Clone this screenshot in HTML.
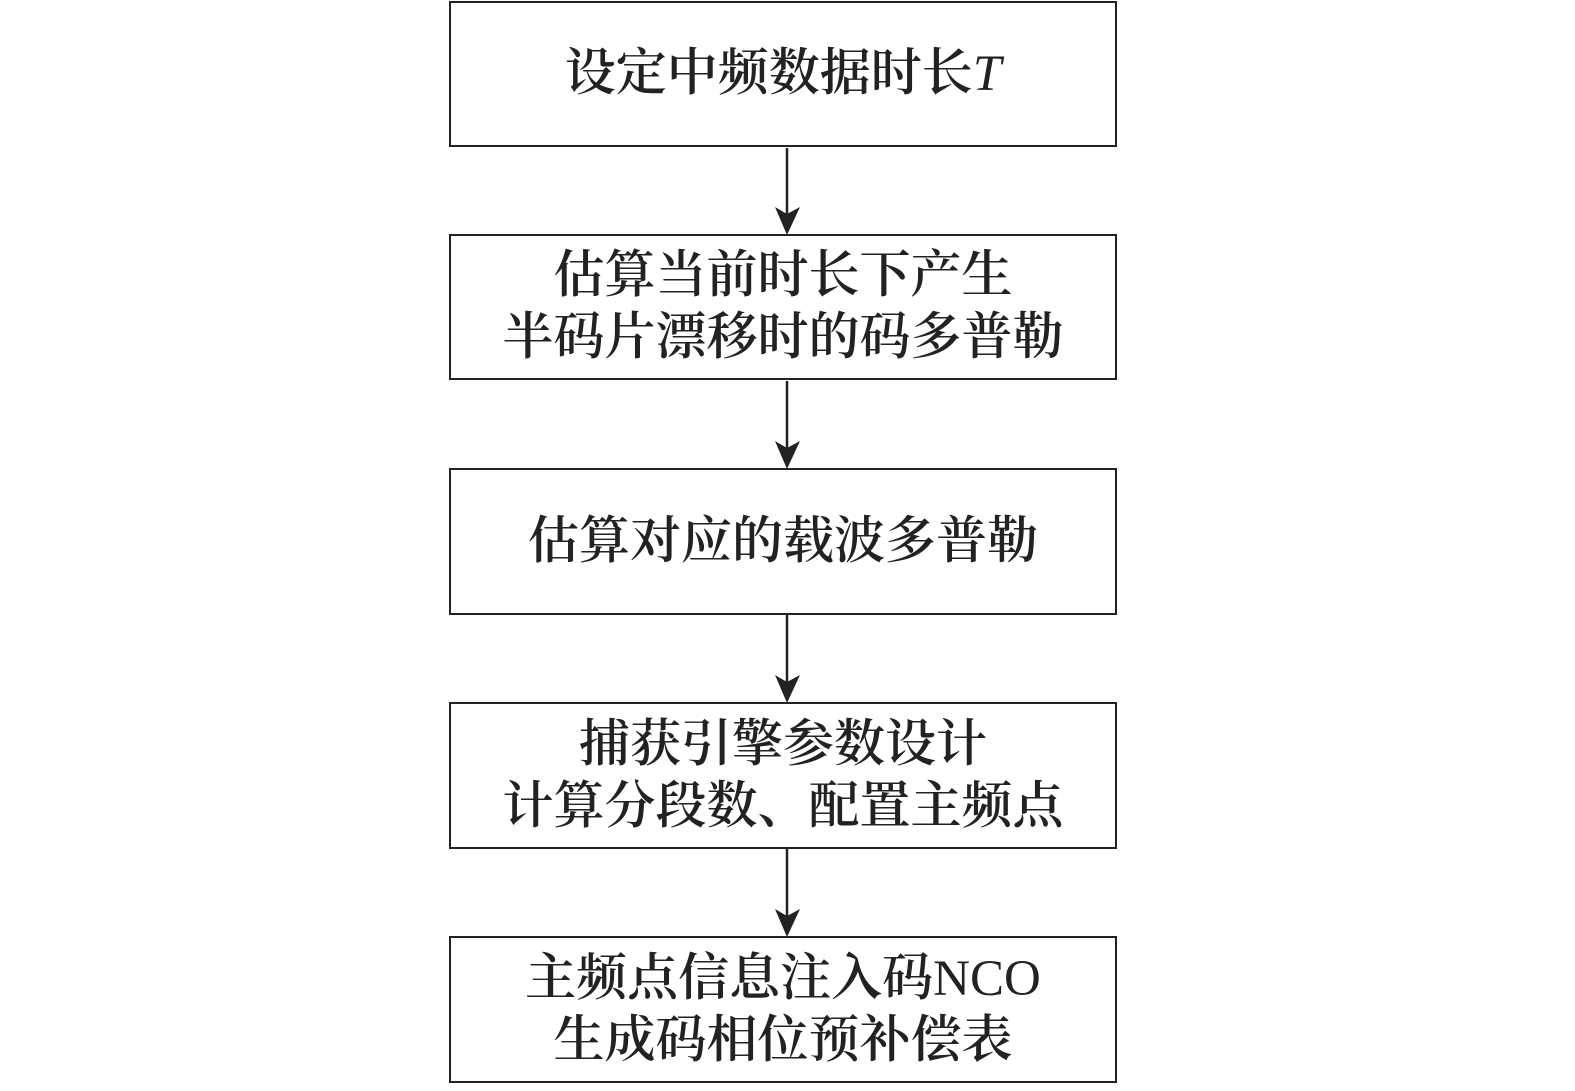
<!DOCTYPE html>
<html><head><meta charset="utf-8"><style>
html,body{margin:0;background:#fff;width:1575px;height:1091px;overflow:hidden;}
.b{position:absolute;left:449px;width:664px;border:2.5px solid #222;display:flex;flex-direction:column;align-items:center;justify-content:center;font-family:"Liberation Serif","Noto Serif CJK SC",serif;font-size:51px;font-weight:600;color:#222;line-height:62px;box-sizing:content-box;white-space:nowrap;}
.l{font-weight:normal;}
</style></head><body>
<div class="b" style="top:1px;height:142px;"><div>设定中频数据时长<i class="l">T</i></div></div>
<div class="b" style="top:234px;height:142px;"><div>估算当前时长下产生</div><div>半码片漂移时的码多普勒</div></div>
<div class="b" style="top:468px;height:143px;"><div>估算对应的载波多普勒</div></div>
<div class="b" style="top:702px;height:143px;"><div>捕获引擎参数设计</div><div>计算分段数、配置主频点</div></div>
<div class="b" style="top:936px;height:143px;"><div>主频点信息注入码<span class="l">NCO</span></div><div>生成码相位预补偿表</div></div>
<svg width="1575" height="1091" style="position:absolute;left:0;top:0">
<g stroke="#222" stroke-width="2.5" fill="#222">
<line x1="787" y1="148" x2="787" y2="215"/>
<polygon points="775,207 787,235 800,207 787,214" stroke="none"/>
<line x1="787" y1="381" x2="787" y2="449"/>
<polygon points="775,441 787,469 800,441 787,448" stroke="none"/>
<line x1="787" y1="615" x2="787" y2="683"/>
<polygon points="775,675 787,703 800,675 787,682" stroke="none"/>
<line x1="787" y1="849" x2="787" y2="917"/>
<polygon points="775,909 787,937 800,909 787,916" stroke="none"/>
</g></svg>
</body></html>
